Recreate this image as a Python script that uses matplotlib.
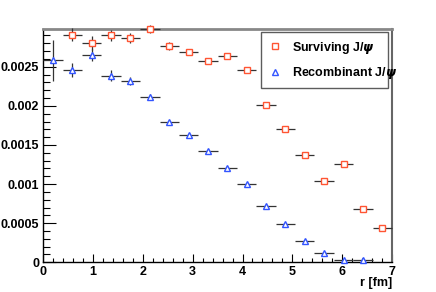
import numpy as np
import matplotlib
matplotlib.use("Agg")
import matplotlib.pyplot as plt
from matplotlib.lines import Line2D

# bins: 18 bins over 0..7 fm
bin_edges = np.linspace(0, 7, 19)
r_centers = 0.5 * (bin_edges[:-1] + bin_edges[1:])
half_width = 0.5 * (bin_edges[1] - bin_edges[0])

# surviving J/psi (first bin not shown)
surv = [np.nan, 0.002911, 0.00280, 0.002903, 0.002868, 0.00298, 0.002766, 0.002689,
        0.002578, 0.002642, 0.002463, 0.002012, 0.001709, 0.001368, 0.001044,
        0.001257, 0.000686, 0.000439]
surv_err = [0, 0.00008, 0.00009, 0.00007, 0.00006, 0.00005, 0.00005, 0.00004,
            0.00004, 0.00004, 0.00003, 0.00003, 0.00003, 0.00002, 0.00002,
            0.00002, 0.00002, 0.00002]

# recombinant J/psi
recomb = [0.002583, 0.002455, 0.002651, 0.002386, 0.002318, 0.00211, 0.001794,
          0.001624, 0.001423, 0.001206, 0.000997, 0.000724, 0.000494, 0.000276,
          0.000119, 0.000035, 0.000035, np.nan]
recomb_err = [0.00026, 0.00009, 0.00008, 0.00007, 0.00005, 0.00004, 0.00003,
              0.00003, 0.00002, 0.00002, 0.00002, 0.00001, 0.00001, 0.00001,
              0.00001, 0.00001, 0.00001, 0]

yticks = [0, 0.0005, 0.001, 0.0015, 0.002, 0.0025]
ytick_labels = ["0", "0.0005", "0.001", "0.0015", "0.002", "0.0025"]

plt.rcParams['font.family'] = ['Liberation Sans', 'DejaVu Sans']
plt.rcParams['font.weight'] = 'bold'
plt.rcParams['mathtext.fontset'] = 'dejavusans'

fig = plt.figure(figsize=(4.36, 2.92), dpi=100)
ax = fig.add_axes([0.0993, 0.1017, 0.7997, 0.799])

red = '#ff5533'
blue = '#3355ff'
errc = '#333333'

ax.errorbar(r_centers, surv, xerr=half_width, yerr=surv_err, fmt='s', ms=4.5,
            mfc='white', mec=red, mew=1.0, ecolor=errc, elinewidth=0.9,
            capsize=0, clip_on=False, zorder=3)
ax.errorbar(r_centers, recomb, xerr=half_width, yerr=recomb_err, fmt='^', ms=4.5,
            mfc='white', mec=blue, mew=1.0, ecolor=errc, elinewidth=0.9,
            capsize=0, clip_on=False, zorder=3)

ax.set_xlim(0, 7)
ax.set_ylim(0, 0.002983)
ax.set_xticks(range(8))
ax.set_xticks(np.arange(0, 7.01, 0.2), minor=True)
ax.set_yticks(yticks)
ax.set_yticklabels(ytick_labels)
ax.set_yticks(np.arange(0, 0.00298, 0.0001), minor=True)

ax.tick_params(axis='both', which='both', direction='in', labelsize=9, width=0.8,
               top=False, right=False)
ax.tick_params(axis='y', which='major', length=9, pad=3)
ax.tick_params(axis='y', which='minor', length=5)
ax.tick_params(axis='x', which='major', length=6, pad=3)
ax.tick_params(axis='x', which='minor', length=3)

for s in ['left', 'bottom']:
    ax.spines[s].set_color('black')
    ax.spines[s].set_linewidth(1.0)
ax.spines['top'].set_color('#888888')
ax.spines['top'].set_linewidth(2.0)
ax.spines['right'].set_color('#666666')
ax.spines['right'].set_linewidth(1.5)

fig.text(392 / 436, 1 - 283 / 292, 'r [fm]', fontsize=9, fontweight='bold',
         ha='right', va='center')

handles = [Line2D([], [], ls='none', marker='s', ms=4, mfc='white', mec=red, mew=1.0),
           Line2D([], [], ls='none', marker='^', ms=4, mfc='white', mec=blue, mew=1.0)]
labels = [r'Surviving J/$\psi$', r'Recombinant J/$\psi$']
leg = ax.legend(handles, labels, loc='upper left',
                bbox_to_anchor=(0.624, 0.75, 0.364, 0.237),
                mode='expand', fancybox=False, frameon=True, edgecolor='#333333',
                fontsize=9, handlelength=1.1, handletextpad=0.8, borderpad=0.6,
                labelspacing=0.75, borderaxespad=0)
leg.get_frame().set_linewidth(1.0)

fig.savefig('out.png', dpi=100)
